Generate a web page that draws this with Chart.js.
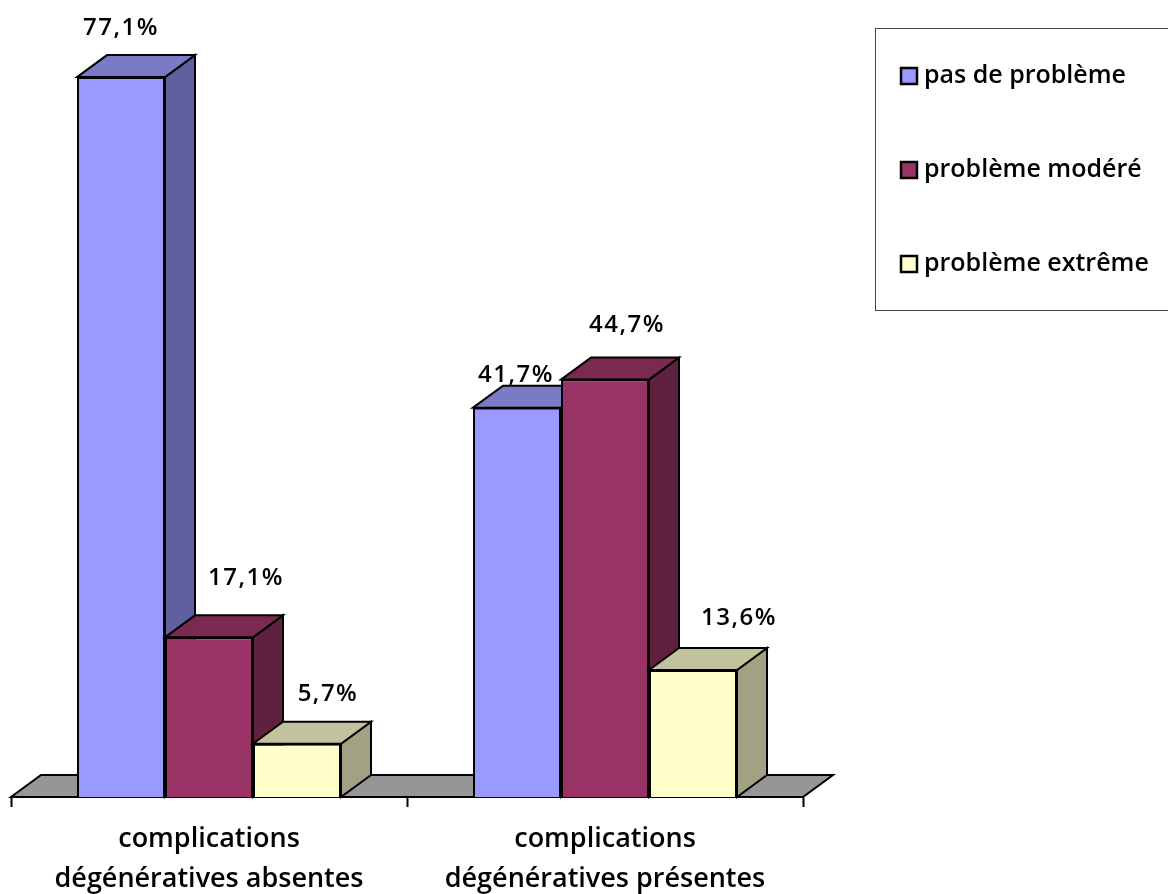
<!DOCTYPE html>
<html>
<head>
<meta charset="utf-8">
<script src="https://cdn.jsdelivr.net/npm/chart.js"></script>
<style>
  body { margin: 0; background: #fff; }
  canvas { display: block; }
</style>
</head>
<body>
<canvas id="myChart" width="1168" height="894"></canvas>
<script>
    // values
    const categories = [
        ['complications', 'dégénératives absentes'],
        ['complications', 'dégénératives présentes']
    ];
    const seriesNames = ['pas de problème', 'problème modéré', 'problème extrême'];
    const noProblem = [77.1, 41.7];
    const moderate = [17.1, 44.7];
    const extreme = [5.7, 13.6];

    const frontColors = ['#9999FF', '#993366', '#FFFFCC'];
    const topColors = ['#7A7AC6', '#7A2950', '#C2C29E'];
    const sideColors = ['#6060A0', '#602040', '#A2A282'];

    // label shift from the top of each bar, the original chart had them moved by hand
    const labelShift = [
        [[0, -49], [-1, -32]],
        [[37, -59], [22, -54]],
        [[31, -50], [46, -52]]
    ];

    const depthX = 30, depthY = 22;
    const labelFont = '600 24px "Open Sans"';
    const legendFont = '600 25px "Open Sans"';

    function poly(ctx, pts, fill) {
        ctx.beginPath();
        pts.forEach((p, i) => i ? ctx.lineTo(p[0], p[1]) : ctx.moveTo(p[0], p[1]));
        ctx.closePath();
        ctx.fillStyle = fill;
        ctx.fill();
        ctx.lineWidth = 2;
        ctx.strokeStyle = '#000';
        ctx.stroke();
    }

    const bars3d = {
        id: 'bars3d',
        // the library would paint the first series last, here they go left to right
        beforeDatasetDraw() { return false; },
        beforeDatasetsDraw(chart) {
            const ctx = chart.ctx, x = chart.scales.x, base = chart.scales.y.getPixelForValue(0);
            poly(ctx, [[x.left, base], [x.left + depthX, base - depthY],
                [x.right + depthX, base - depthY], [x.right, base]], '#969696');
        },
        afterDatasetsDraw(chart) {
            const ctx = chart.ctx;
            chart.data.datasets.forEach((ds, i) => {
                chart.getDatasetMeta(i).data.forEach(bar => {
                    const l = bar.x - bar.width / 2, r = bar.x + bar.width / 2, t = bar.y, b = bar.base;
                    poly(ctx, [[r, t], [r + depthX, t - depthY], [r + depthX, b - depthY], [r, b]], sideColors[i]);
                    poly(ctx, [[l, t], [l + depthX, t - depthY], [r + depthX, t - depthY], [r, t]], topColors[i]);
                    bar.draw(ctx);
                });
            });
            // value labels
            ctx.font = labelFont;
            ctx.letterSpacing = '1.5px';
            ctx.fillStyle = '#000';
            ctx.textAlign = 'center';
            ctx.textBaseline = 'middle';
            chart.data.datasets.forEach((ds, i) => {
                chart.getDatasetMeta(i).data.forEach((bar, j) => {
                    const s = labelShift[i][j];
                    ctx.fillText(ds.data[j].toFixed(1).replace('.', ',') + '%', bar.x + s[0], bar.y + s[1]);
                });
            });
            ctx.letterSpacing = '0px';
            // legend box
            ctx.strokeStyle = '#444';
            ctx.lineWidth = 1;
            ctx.strokeRect(875.5, 28.5, 300, 282);
            ctx.textAlign = 'left';
            ctx.font = legendFont;
            chart.data.datasets.forEach((ds, i) => {
                const y = 76 + i * 94;
                ctx.fillStyle = ds.backgroundColor;
                ctx.fillRect(901, y - 8, 16, 16);
                ctx.strokeStyle = '#000';
                ctx.lineWidth = 2.5;
                ctx.strokeRect(901, y - 8, 16, 16);
                ctx.fillStyle = '#000';
                ctx.fillText(ds.label, 924, y);
            });
        }
    };

    const seriesValues = [noProblem, moderate, extreme];
    new Chart(document.getElementById('myChart').getContext('2d'), {
        type: 'bar',
        data: {
            labels: categories,
            datasets: seriesNames.map((name, i) => ({
                label: name,
                data: seriesValues[i],
                backgroundColor: frontColors[i],
                borderColor: '#000',
                borderWidth: 2
            }))
        },
        options: {
            responsive: false,
            animation: false,
            events: [],
            layout: { padding: { left: 11, right: 365, top: 50, bottom: 0 } },
            datasets: { bar: { categoryPercentage: 2 / 3, barPercentage: 1 } },
            plugins: { legend: { display: false }, tooltip: { enabled: false } },
            scales: {
                y: { display: false, min: 0, max: 80 },
                x: {
                    afterFit: s => { s.height = 97; },
                    border: { color: '#000', width: 2 },
                    grid: { drawOnChartArea: false, color: '#000', tickLength: 10, tickWidth: 2 },
                    ticks: {
                        color: '#000',
                        padding: 12,
                        maxRotation: 0,
                        font: { family: 'Open Sans', size: 27, weight: '600', lineHeight: 1.48 }
                    }
                }
            }
        },
        plugins: [bars3d]
    });
</script>
</body>
</html>
